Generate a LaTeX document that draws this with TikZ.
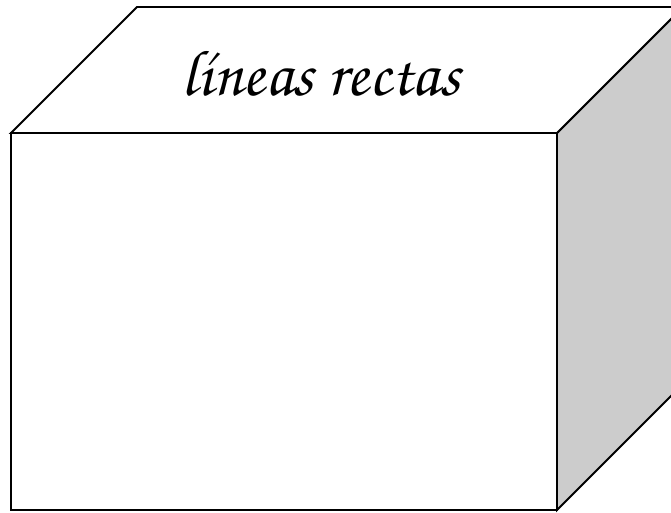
\documentclass[tikz,border=0pt]{standalone}
\usepackage[T1,TU]{fontenc}
\definecolor{boxside}{HTML}{CCCCCC}
\usepackage{tikz}

\begin{document}
\begin{tikzpicture}[
    x=0.02cm, y=-0.02cm,
    edge/.style={draw=black, line width=1.1pt, line join=miter},
    title/.style={font=\fontencoding{T1}\fontfamily{pzc}\fontseries{mb}\fontshape{it}\fontsize{37}{40}\selectfont, inner sep=0pt}
  ]
    \useasboundingbox (0,0) rectangle (671,512);
    \clip (0,0) rectangle (671,512);
    % right face
    \path[edge, fill=boxside] (557,133) -- (683,7) -- (683,384) -- (557,510) -- cycle;
    % top face
    \path[edge, fill=white] (11,133) -- (137,7) -- (683,7) -- (557,133) -- cycle;
    % front face
    \path[edge, fill=white] (11,133) rectangle (557,510);
    \node[title] (lbl) at (321,73) {l\'{\i}neas rectas};
  \end{tikzpicture}
\end{document}
